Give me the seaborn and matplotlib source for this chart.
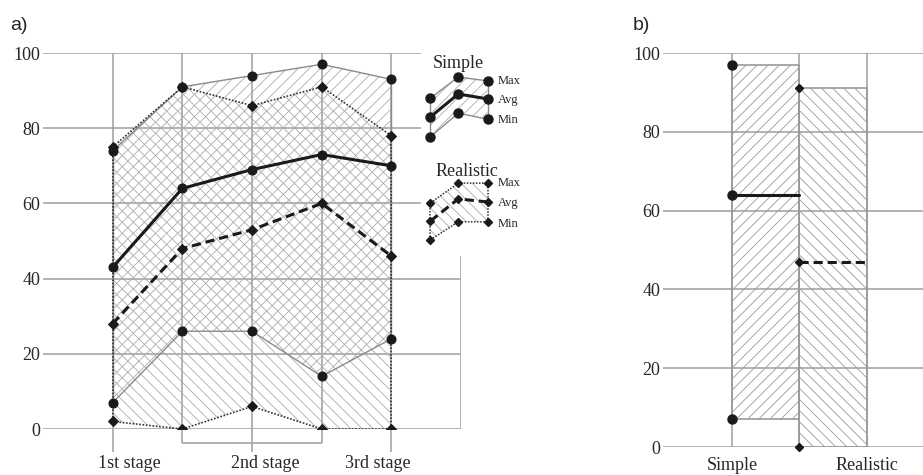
import matplotlib
matplotlib.use("Agg")
import matplotlib.pyplot as plt
import seaborn as sns

# data: scores per stage (a) and overall (b)
stages = [0, 1, 2, 3, 4]
stage_labels = ["1st stage", "2nd stage", "3rd stage"]
simple_max = [74, 91, 94, 97, 93]
simple_avg = [43, 64, 69, 73, 70]
simple_min = [7, 26, 26, 14, 24]
real_max = [75, 91, 86, 91, 78]
real_avg = [28, 48, 53, 60, 46]
real_min = [2, 0, 6, 0, 0]

overall_labels = ["Simple", "Realistic"]
overall_min = [7, 0]
overall_avg = [64, 47]
overall_max = [97, 91]

# little legend glyph (3 sample points per curve)
leg_x = [4.56, 4.96, 5.38]
leg_simple_max = [88.0, 93.6, 92.6]
leg_simple_avg = [83.0, 89.1, 87.8]
leg_simple_min = [77.7, 84.0, 82.4]
leg_real_max = [60.1, 65.4, 65.4]
leg_real_avg = [55.3, 61.2, 60.4]
leg_real_min = [50.3, 55.1, 55.1]

sns.set_theme(style="white")
plt.rcParams["font.family"] = ["Liberation Serif", "DejaVu Serif"]
plt.rcParams["hatch.linewidth"] = 0.6

grid_c = "#a6a6a6"
thin_c = "#8a8a8a"
hatch_c = "#ababab"
dot_c = "#333333"
simple_hatch = "///"
real_hatch = "\\\\\\"
dashed = (0, (3, 1.6))
dotted = (0, (1, 1))
circ = 6.5
diam = 5

fig = plt.figure(figsize=(9.23, 4.75), dpi=100)
ax = fig.add_axes([0.0466, 0.0968, 0.4529, 0.7916])
axb = fig.add_axes([0.7183, 0.0589, 0.2817, 0.8295])

# ---------- panel a ----------
ax.set_xlim(-1, 5)
ax.set_ylim(0, 100)
ax.hlines([0, 20, 40], -1, 5, color=grid_c, lw=1.2, zorder=0)
ax.hlines([60, 80, 100], -1, 4.42, color=grid_c, lw=1.2, zorder=0)
ax.vlines(stages, 0, 100, color=grid_c, lw=1.2, zorder=0)
ax.vlines([0, 2, 4], -6.1, 0, color=grid_c, lw=1.2, clip_on=False)
ax.vlines([1, 3], -3.7, 0, color=grid_c, lw=1.2, clip_on=False)
ax.hlines(-3.7, 1, 3, color=grid_c, lw=1.2, clip_on=False)
ax.vlines(5, 0, 46, color=grid_c, lw=1.2)

ax.fill_between(stages, simple_min, simple_max, facecolor="none",
                edgecolor=hatch_c, hatch=simple_hatch, lw=0, zorder=1)
ax.fill_between(stages, real_min, real_max, facecolor="none",
                edgecolor=hatch_c, hatch=real_hatch, lw=0, zorder=1)

# region side edges
for i in [0, 4]:
    ax.plot([i, i], [simple_min[i], simple_max[i]], color=thin_c, lw=1, zorder=2)
    ax.plot([i, i], [real_min[i], real_max[i]], color=dot_c, lw=1.2,
            linestyle=dotted, zorder=2)

for ys in [simple_max, simple_min]:
    sns.lineplot(x=stages, y=ys, ax=ax, color=thin_c, lw=1, marker="o",
                 markersize=circ, markerfacecolor="k", markeredgecolor="k", zorder=3)
for ys in [real_max, real_min]:
    sns.lineplot(x=stages, y=ys, ax=ax, color=dot_c, lw=1.2, linestyle=dotted,
                 marker="D", markersize=diam, markerfacecolor="k",
                 markeredgecolor="k", zorder=3)
sns.lineplot(x=stages, y=simple_avg, ax=ax, color="k", lw=2.2, marker="o",
             markersize=circ, markeredgecolor="k", zorder=4)
sns.lineplot(x=stages, y=real_avg, ax=ax, color="k", lw=2.2, linestyle=dashed,
             marker="D", markersize=diam, markeredgecolor="k", zorder=4)

# legend glyphs
ax.fill_between(leg_x, leg_simple_min, leg_simple_max, facecolor="none",
                edgecolor=hatch_c, hatch=simple_hatch, lw=0, clip_on=False)
ax.fill_between(leg_x, leg_real_min, leg_real_max, facecolor="none",
                edgecolor=hatch_c, hatch=real_hatch, lw=0, clip_on=False)
ax.plot([leg_x[0]] * 2, [leg_simple_min[0], leg_simple_max[0]], color=thin_c,
        lw=1, clip_on=False)
ax.plot([leg_x[-1]] * 2, [leg_simple_min[-1], leg_simple_max[-1]], color=thin_c,
        lw=1, clip_on=False)
ax.plot([leg_x[0]] * 2, [leg_real_min[0], leg_real_max[0]], color=dot_c,
        lw=1.1, linestyle=dotted, clip_on=False)
ax.plot([leg_x[-1]] * 2, [leg_real_min[-1], leg_real_max[-1]], color=dot_c,
        lw=1.1, linestyle=dotted, clip_on=False)
for ys in [leg_simple_max, leg_simple_min]:
    ax.plot(leg_x, ys, color=thin_c, lw=1, marker="o", markersize=circ,
            markerfacecolor="k", markeredgecolor="k", clip_on=False)
ax.plot(leg_x, leg_simple_avg, color="k", lw=2.2, marker="o", markersize=circ,
        clip_on=False)
for ys in [leg_real_max, leg_real_min]:
    ax.plot(leg_x, ys, color=dot_c, lw=1.1, linestyle=dotted, marker="D",
            markersize=4, markerfacecolor="k", markeredgecolor="k", clip_on=False)
ax.plot(leg_x, leg_real_avg, color="k", lw=2.2, linestyle=dashed, marker="D",
        markersize=4, clip_on=False)

ax.text(4.96, 97.3, "Simple", fontsize=13, ha="center", va="center")
ax.text(5.08, 68.4, "Realistic", fontsize=13, ha="center", va="center")
for name, y in zip(["Max", "Avg", "Min"], [92.6, 87.5, 82.2]):
    ax.text(5.53, y, name, fontsize=9, ha="left", va="center")
for name, y in zip(["Max", "Avg", "Min"], [65.4, 60.1, 54.5]):
    ax.text(5.53, y, name, fontsize=9, ha="left", va="center")

ax.set_yticks([0, 20, 40, 60, 80, 100])
ax.set_xticks([0.245, 2.19, 3.81])
ax.set_xticklabels(stage_labels)
ax.tick_params(axis="y", length=0, pad=2, labelsize=13)
ax.tick_params(axis="x", length=0, pad=19, labelsize=13)
for s in ax.spines.values():
    s.set_visible(False)

# ---------- panel b ----------
axb.set_xlim(-0.02, 3.83)
axb.set_ylim(0, 100)
axb.hlines([0, 20, 40, 60, 80, 100], -0.02, 3.83, color=grid_c, lw=1.2, zorder=0)
axb.vlines([1, 2, 3], 0, 100, color=grid_c, lw=1.2, zorder=0)

bar_x = [1.5, 2.5]
hatches = [simple_hatch, real_hatch]
for bx, lo, hi, h in zip(bar_x, overall_min, overall_max, hatches):
    axb.bar(bx, hi - lo, width=1, bottom=lo, facecolor="none",
            edgecolor="#9a9a9a", hatch=h, lw=1.2, zorder=1)

sns.lineplot(x=[1, 2], y=[overall_avg[0]] * 2, ax=axb, color="k", lw=2.2, zorder=3)
sns.lineplot(x=[2, 3], y=[overall_avg[1]] * 2, ax=axb, color="k", lw=2.2,
             linestyle=dashed, zorder=3)
axb.plot([1] * 3, [overall_min[0], overall_avg[0], overall_max[0]], "o",
         color="k", markersize=circ, zorder=4, clip_on=False)
axb.plot([2] * 3, [overall_min[1], overall_avg[1], overall_max[1]], "D",
         color="k", markersize=4.5, zorder=4, clip_on=False)

axb.set_yticks([0, 20, 40, 60, 80, 100])
axb.set_xticks([1, 3])
axb.set_xticklabels(overall_labels)
axb.tick_params(axis="y", length=0, pad=2, labelsize=13)
axb.tick_params(axis="x", length=0, pad=7, labelsize=13)
for s in axb.spines.values():
    s.set_visible(False)

fig.text(10 / 923, 1 - 25 / 475, "a)", fontsize=14, family="Liberation Sans",
         ha="left", va="center")
fig.text(633 / 923, 1 - 25 / 475, "b)", fontsize=14, family="Liberation Sans",
         ha="left", va="center")

fig.savefig("out.png", dpi=100)
